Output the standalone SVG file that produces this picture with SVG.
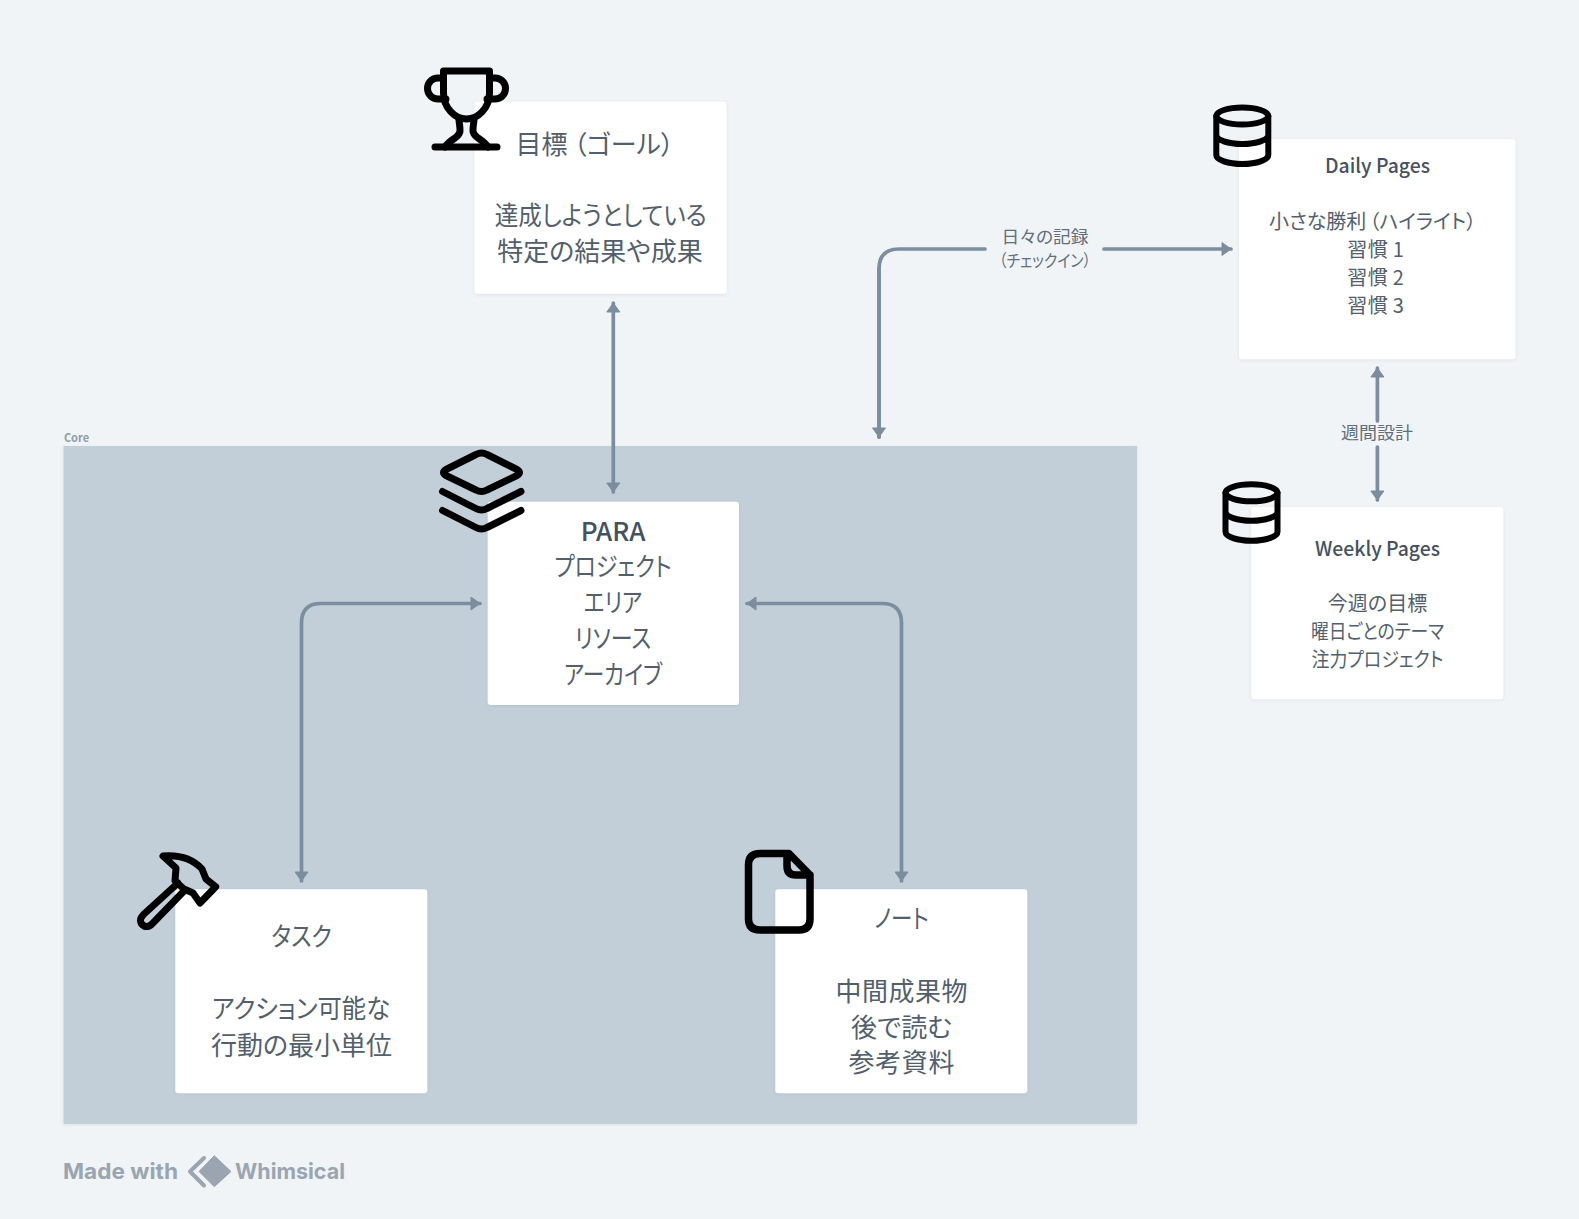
<svg xmlns="http://www.w3.org/2000/svg" width="1579" height="1219" viewBox="0 0 1579 1219">
<style>
text{font-family:"Noto Sans CJK JP","Noto Sans",sans-serif;text-anchor:middle;fill:#52606d;font-feature-settings:"palt";}
.b{font-size:26px}
.s{font-size:20px}
.l{font-size:17px;fill:#616e7c}
.h{fill:#44525f;font-weight:500}
.box{fill:#fff;filter:url(#sh)}
.ic{fill:none;stroke:#000;stroke-linecap:round;stroke-linejoin:round}
.cn{fill:none;stroke:#7b8d9f;stroke-width:3.700;stroke-linecap:round}
.wm{font-family:"Inter",sans-serif;font-weight:700;font-size:22px;fill:#9aa5b1;text-anchor:start}
</style>
<defs>
<filter id="sh" x="-5%" y="-5%" width="110%" height="110%"><feDropShadow dx="0" dy="1" stdDeviation="1.5" flood-color="#52606d" flood-opacity="0.12"/></filter>
<marker id="a" viewBox="0 0 10 14" refX="10" refY="7" markerWidth="10" markerHeight="14" markerUnits="userSpaceOnUse" orient="auto-start-reverse"><path d="M1 0.500 L10 7 L1 13.500 Z" fill="#7b8d9f" stroke="#7b8d9f" stroke-linejoin="round"/></marker>
</defs>
<rect width="1579" height="1219" fill="#f0f4f7"/>
<g id="core">
<rect x="63.500" y="446" width="1073.500" height="678" fill="#c2cfd9" filter="url(#sh)"/>
<text x="76.500" y="442" style="font-size:11px;font-weight:700;fill:#8f9ba8">Core</text>
</g>
<g id="connectors">
<path class="cn" d="M613.300 303 V492" marker-start="url(#a)" marker-end="url(#a)"/>
<path class="cn" d="M879 437 V269 Q879 249 899 249 H985"/>
<path class="cn" d="M879 269 V437" marker-end="url(#a)"/>
<path class="cn" d="M1104 249 H1231" marker-end="url(#a)"/>
<path class="cn" d="M1377.400 421 V368" marker-end="url(#a)"/>
<path class="cn" d="M1377.400 447 V500" marker-end="url(#a)"/>
<path class="cn" d="M301.500 881 V623 Q301.500 603.500 321 603.500 H480" marker-start="url(#a)" marker-end="url(#a)"/>
<path class="cn" d="M901.500 881 V623 Q901.500 603.500 882 603.500 H747" marker-start="url(#a)" marker-end="url(#a)"/>
<text class="l" x="1045" y="243" textLength="87" lengthAdjust="spacingAndGlyphs">日々の記録</text>
<text class="l" x="1045" y="267" textLength="92" lengthAdjust="spacingAndGlyphs">（チェックイン）</text>
<text class="l" x="1377" y="439" textLength="72" lengthAdjust="spacingAndGlyphs">週間設計</text>
</g>
<g id="goal">
<rect class="box" x="474.500" y="101.700" width="252" height="192" rx="3"/>
<text class="b" x="594.700" y="154">目標<tspan dx="6">（ゴール）</tspan></text>
<text class="b" x="600.700" y="225" textLength="212" lengthAdjust="spacingAndGlyphs">達成しようとしている</text>
<text class="b" x="600" y="261">特定の結果や成果</text>
<g class="ic" stroke-width="7">
<path d="M443.500 71 H489.500 V93 C489.500 108 478 119 466.500 119 C455 119 443.500 108 443.500 93 Z"/>
<path d="M443.500 78 H438 A10.500 10.500 0 0 0 438 99 H446"/>
<path d="M489.500 78 H495 A10.500 10.500 0 0 1 495 99 H487"/>
<path d="M459 120 C460 130 462 133 455 138 C449 142 447 144 445 147"/>
<path d="M474 120 C473 130 471 133 478 138 C484 142 486 144 488 147"/>
<path d="M435 147 H497"/>
</g>
</g>
<g id="para">
<rect class="box" x="487.700" y="501.700" width="251.300" height="203.300" rx="3"/>
<text class="b h" x="613" y="541">PARA</text>
<text class="b" x="613" y="576" textLength="117" lengthAdjust="spacingAndGlyphs">プロジェクト</text>
<text class="b" x="613" y="612" textLength="58.500" lengthAdjust="spacingAndGlyphs">エリア</text>
<text class="b" x="613" y="648" textLength="76.500" lengthAdjust="spacingAndGlyphs">リソース</text>
<text class="b" x="613" y="684" textLength="98" lengthAdjust="spacingAndGlyphs">アーカイブ</text>
<g class="ic" stroke-width="7">
<path d="M476 454.500 Q481.500 451.500 487 454.500 L517 469.500 Q522 472.500 517 475.500 L487 490 Q481.500 493 476 490 L446 475.500 Q441 472.500 446 469.500 Z"/>
<path d="M442.500 491.500 L476 508.500 Q481.500 511.500 487 508.500 L521 491.500"/>
<path d="M442.500 510.500 L476 527.500 Q481.500 530.500 487 527.500 L521 510.500"/>
</g>
</g>
<g id="tasks">
<rect class="box" x="175.300" y="889.300" width="252" height="204" rx="3"/>
<text class="b" x="301.500" y="946" textLength="60.500" lengthAdjust="spacingAndGlyphs">タスク</text>
<text class="b" x="301" y="1018" textLength="178" lengthAdjust="spacingAndGlyphs">アクション可能な</text>
<text class="b" x="301.500" y="1055">行動の最小単位</text>
<path class="ic" stroke-width="7" d="M178 883 L144 914 Q139 919 141 923 Q145 929 151 925 L184 891 M163 856 C175 855 190 856 202 869 L206 879 L215.700 886.700 L200 903 L193 893 L184 889 L175 881 L176 868 Z"/>
</g>
<g id="notes">
<rect class="box" x="775.300" y="889.300" width="252" height="204" rx="3"/>
<text class="b" x="901.500" y="928" textLength="54.500" lengthAdjust="spacingAndGlyphs">ノート</text>
<text class="b" x="901.500" y="1001" textLength="132" lengthAdjust="spacing">中間成果物</text>
<text class="b" x="901.500" y="1037">後で読む</text>
<text class="b" x="901.500" y="1072" textLength="106" lengthAdjust="spacing">参考資料</text>
<path class="ic" stroke-width="7.500" d="M760 853.500 H789 L810 875 V919 Q810 930 799 930 H760 Q748.500 930 748.500 919 V865 Q748.500 853.500 760 853.500 Z M787 854 V866 Q787 875 796 875 H810"/>
</g>
<g id="daily">
<rect class="box" x="1239" y="139.300" width="276.500" height="220" rx="3"/>
<text class="s h" x="1377.500" y="173" textLength="105" lengthAdjust="spacingAndGlyphs">Daily Pages</text>
<text class="s" x="1372.500" y="229">小さな勝利<tspan dx="3">（ハイライト）</tspan></text>
<text class="s" x="1375.600" y="257" textLength="56.500" lengthAdjust="spacing">習慣 1</text>
<text class="s" x="1375.600" y="285" textLength="56.500" lengthAdjust="spacing">習慣 2</text>
<text class="s" x="1375.600" y="313" textLength="56.500" lengthAdjust="spacing">習慣 3</text>
<g class="ic" stroke-width="6"><ellipse cx="1242.300" cy="116" rx="26" ry="8.500"/><path d="M1216.300 116 V155 A26 9 0 0 0 1268.300 155 V116 M1216.300 135 A26 9 0 0 0 1268.300 135"/></g>
</g>
<g id="weekly">
<rect class="box" x="1251.300" y="507.300" width="252" height="192" rx="3"/>
<text class="s h" x="1377.500" y="556" textLength="125" lengthAdjust="spacingAndGlyphs">Weekly Pages</text>
<text class="s" x="1377.500" y="611">今週の目標</text>
<text class="s" x="1377.500" y="639" textLength="133" lengthAdjust="spacingAndGlyphs">曜日ごとのテーマ</text>
<text class="s" x="1377.500" y="667" textLength="132" lengthAdjust="spacingAndGlyphs">注力プロジェクト</text>
<g class="ic" stroke-width="6"><ellipse cx="1251.500" cy="492.800" rx="26" ry="8.500"/><path d="M1225.500 492.800 V531.800 A26 9 0 0 0 1277.500 531.800 V492.800 M1225.500 511.800 A26 9 0 0 0 1277.500 511.800"/></g>
</g>
<g id="watermark">
<text class="wm" x="63" y="1179" textLength="115" lengthAdjust="spacingAndGlyphs">Made with</text>
<path d="M204 1158 L190 1171.500 L204 1185.500" fill="none" stroke="#9aa5b1" stroke-width="4" stroke-linecap="round" stroke-linejoin="round"/>
<path d="M199 1171.500 L214.300 1155.700 L231 1171.500 L214.300 1186.700 Z" fill="#9aa5b1" stroke="#9aa5b1" stroke-width="1" stroke-linejoin="round"/>
<text class="wm" x="235" y="1179" textLength="110" lengthAdjust="spacingAndGlyphs">Whimsical</text>
</g>
</svg>
